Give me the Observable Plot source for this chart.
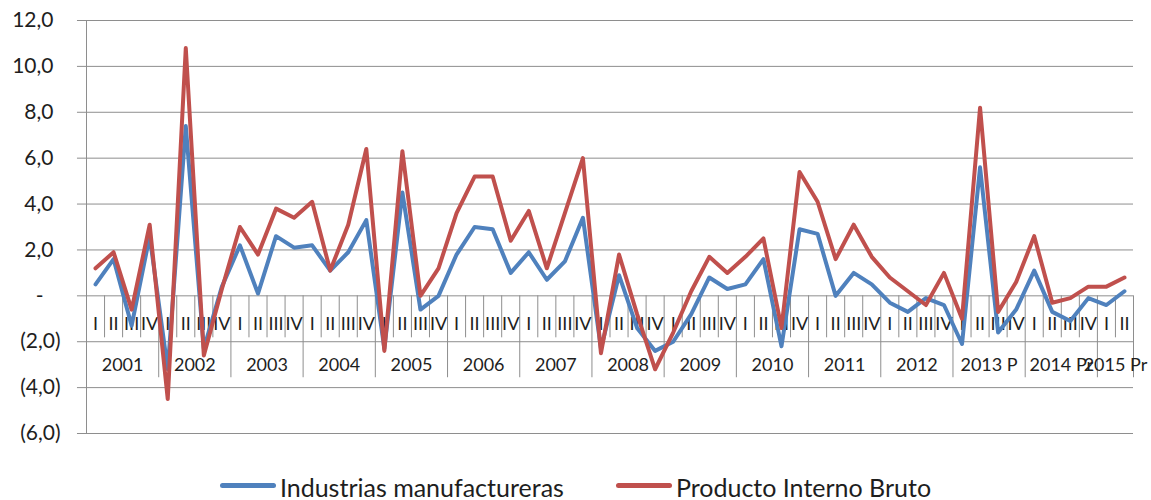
<!DOCTYPE html>
<html>
<head>
<meta charset="utf-8">
<script src="https://cdn.jsdelivr.net/npm/d3@7"></script>
<script src="https://cdn.jsdelivr.net/npm/@observablehq/plot@0.6"></script>
<style>
  body { margin: 0; background: #fff; font-family: Lato, "Open Sans", sans-serif; }
  #chart svg { display: block; }
  #legend {
    display: flex; justify-content: center; align-items: center;
    height: 26px; line-height: 26px; margin-top: 14px; font-size: 25px; color: #1e1e1e;
  }
  .item { display: flex; align-items: center; }
  .item + .item { margin-left: 52px; }
  .swatch { width: 56px; height: 5px; border-radius: 2.5px; margin-right: 4px; position: relative; top: -2px; }
</style>
</head>
<body>
<div id="chart"></div>
<div id="legend"></div>
<script>
// Year groups on the category axis and how many quarters each one holds
const years = ["2001", "2002", "2003", "2004", "2005", "2006", "2007", "2008",
               "2009", "2010", "2011", "2012", "2013 P", "2014 Pr", "2015 Pr"];
const quartersPerYear = [4, 4, 4, 4, 4, 4, 4, 4, 4, 4, 4, 4, 4, 4, 2];
const quarterNames = ["I", "II", "III", "IV"];

// Quarterly growth rates (%)
const industrias = [
  0.5, 1.6, -1.3, 2.6,   -3.2, 7.4, -2.3, 0.4,   2.2, 0.1, 2.6, 2.1,
  2.2, 1.1, 1.9, 3.3,    -2.3, 4.5, -0.6, 0.0,   1.8, 3.0, 2.9, 1.0,
  1.9, 0.7, 1.5, 3.4,    -2.3, 0.9, -1.4, -2.4,  -2.0, -0.8, 0.8, 0.3,
  0.5, 1.6, -2.2, 2.9,   2.7, 0.0, 1.0, 0.5,     -0.3, -0.7, -0.1, -0.4,
  -2.1, 5.6, -1.6, -0.6, 1.1, -0.7, -1.1, -0.1,  -0.4, 0.2
];
const pib = [
  1.2, 1.9, -0.6, 3.1,   -4.5, 10.8, -2.6, 0.3,  3.0, 1.8, 3.8, 3.4,
  4.1, 1.1, 3.1, 6.4,    -2.4, 6.3, 0.0, 1.2,    3.6, 5.2, 5.2, 2.4,
  3.7, 1.2, 3.6, 6.0,    -2.5, 1.8, -0.8, -3.2,  -1.6, 0.2, 1.7, 1.0,
  1.7, 2.5, -1.4, 5.4,   4.1, 1.6, 3.1, 1.7,     0.8, 0.2, -0.4, 1.0,
  -1.0, 8.2, -0.7, 0.6,  2.6, -0.3, -0.1, 0.4,   0.4, 0.8
];

const yTicks = [-6, -4, -2, 0, 2, 4, 6, 8, 10, 12];

const seriesNames = ["Industrias manufactureras", "Producto Interno Bruto"];
const seriesColors = ["#4F81BD", "#C0504D"];
const seriesValues = [industrias, pib];

// Period table: one row per quarter, plus year group extents
const periods = [];
const groups = [];
years.forEach((year, k) => {
  const start = periods.length;
  for (let q = 0; q < quartersPerYear[k]; q++) periods.push({ i: periods.length, year, q: quarterNames[q] });
  groups.push({ year, start, end: periods.length });
});
const n = periods.length;
const boundaries = [0, ...groups.map(g => g.end)];
const quarterTicks = d3.range(1, n).filter(i => !boundaries.includes(i));

const rows = seriesNames.flatMap((name, s) =>
  seriesValues[s].map((v, i) => ({ serie: name, i, v })));

// Accounting-style number format: negatives in parentheses, zero as a dash
const num = v => Math.abs(v).toFixed(1).replace(".", ",");
const fmt = v => v < 0 ? `(${num(v)})` : v === 0 ? "-" : num(v);

const grid = "#8e8e8e";
const ink = "#1e1e1e";

const chart = Plot.plot({
  width: 1151,
  height: 460,
  marginLeft: 86,
  marginRight: 18,
  marginTop: 20,
  marginBottom: 27,
  x: { domain: [0, n], axis: null },
  y: { domain: [-6, 12], axis: null },
  style: { fontFamily: "Lato, 'Open Sans', sans-serif", color: ink, overflow: "visible" },
  marks: [
    // horizontal gridlines with short outer ticks on the value axis
    Plot.ruleY(yTicks, { x1: -0.5, x2: n, stroke: grid, strokeWidth: 1 }),
    // value axis line
    Plot.ruleX([0], { y1: -6, y2: 12, stroke: grid }),
    // category tick marks between quarters and year separators
    Plot.ruleX(quarterTicks, { y1: 0, y2: -1.83, stroke: grid }),
    Plot.ruleX(boundaries, { y1: 0, y2: -3.57, stroke: grid }),
    // quarter and year labels under the zero line
    Plot.text(periods, { x: d => d.i + 0.5, y: () => 0, text: "q", dy: 28, fontSize: 18, fill: ink }),
    Plot.text(groups, { x: d => (d.start + d.end) / 2, y: () => 0, text: "year", dy: 69, fontSize: 18, fill: ink }),
    // value axis labels
    Plot.text(yTicks.filter(v => v > 0), { y: d => d, text: fmt, frameAnchor: "left", textAnchor: "end", dx: -33, fontSize: 21, fill: ink }),
    Plot.text(yTicks.filter(v => v === 0), { y: d => d, text: fmt, frameAnchor: "left", textAnchor: "end", dx: -43, fontSize: 21, fill: ink }),
    Plot.text(yTicks.filter(v => v < 0), { y: d => d, text: fmt, frameAnchor: "left", textAnchor: "end", dx: -26, fontSize: 21, fill: ink }),
    // the two series
    Plot.line(rows, {
      x: d => d.i + 0.5, y: "v", z: "serie",
      stroke: d => seriesColors[seriesNames.indexOf(d.serie)],
      strokeWidth: 4, strokeLinejoin: "round", strokeLinecap: "round"
    })
  ]
});
document.getElementById("chart").append(chart);

// Legend
const legend = document.getElementById("legend");
seriesNames.forEach((name, s) => {
  const item = document.createElement("div");
  item.className = "item";
  const sw = document.createElement("span");
  sw.className = "swatch";
  sw.style.background = seriesColors[s];
  const label = document.createElement("span");
  label.textContent = name;
  item.append(sw, label);
  legend.append(item);
});
</script>
</body>
</html>
